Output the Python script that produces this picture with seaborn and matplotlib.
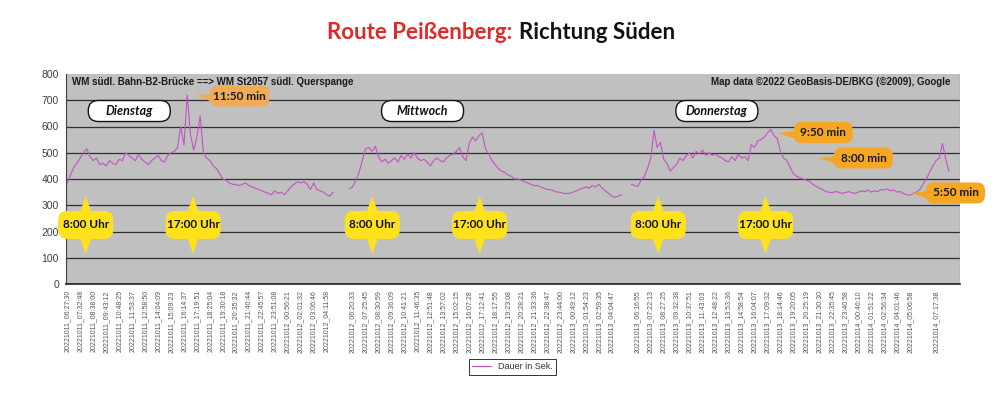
import numpy as np
import pandas as pd
import matplotlib
matplotlib.use("Agg")
import matplotlib.pyplot as plt
import seaborn as sns
from matplotlib.patches import FancyBboxPatch, Polygon
from matplotlib.transforms import IdentityTransform


# Dauer in Sek., about one reading every 16 minutes (4 per axis label)
dienstag = [385, 415, 445, 460, 480, 500, 515, 485, 470, 480,
            455, 460, 450, 470, 460, 455, 475, 470, 500, 490,
            480, 470, 495, 475, 465, 455, 470, 480, 490, 470,
            465, 490, 500, 505, 520, 600, 530, 720, 570, 510,
            560, 640, 500, 480, 470, 450, 440, 420, 400, 395,
            385, 380, 378, 375, 380, 385, 375, 370, 365, 360,
            355, 350, 345, 340, 355, 345, 350, 340, 355, 370,
            380, 390, 385, 390, 380, 360, 385, 360, 355, 350,
            340, 335, 350]
mittwoch = [362, 370, 395, 425, 470, 515, 520, 505, 525, 485,
            465, 475, 460, 470, 480, 465, 490, 475, 495, 480,
            500, 480, 470, 475, 465, 450, 470, 480, 470, 465,
            480, 490, 495, 505, 520, 485, 470, 535, 560, 545,
            565, 575, 515, 495, 470, 455, 440, 430, 425, 415,
            410, 400, 400, 395, 390, 385, 380, 375, 375, 370,
            365, 360, 360, 355, 350, 350, 345, 345, 345, 350,
            355, 360, 365, 370, 365, 375, 370, 380, 365, 355,
            345, 335, 330, 335, 340]
donnerstag = [380, 375, 372, 395, 410, 440, 480, 585, 520, 540,
              475, 460, 430, 445, 455, 480, 470, 490, 500, 480,
              505, 495, 510, 490, 500, 490, 495, 485, 480, 470,
              465, 485, 470, 495, 480, 485, 470, 530, 520, 545,
              550, 560, 575, 590, 565, 555, 505, 480, 470, 445,
              420, 410, 405, 400, 395, 390, 380, 372, 365, 360,
              352, 350, 348, 352, 350, 345, 348, 352, 348, 345,
              350, 355, 352, 358, 350, 355, 352, 360, 358, 362,
              355, 358, 350, 352, 345, 340, 338, 345, 350, 360,
              380, 400, 425, 450, 470, 480, 535, 475, 430]

labels_tue = ["20221011_06:27:30", "20221011_07:32:48", "20221011_08:38:00",
              "20221011_09:43:12", "20221011_10:48:25", "20221011_11:53:37",
              "20221011_12:58:50", "20221011_14:04:09", "20221011_15:09:23",
              "20221011_16:14:37", "20221011_17:19:51", "20221011_18:25:04",
              "20221011_19:30:18", "20221011_20:35:32", "20221011_21:40:44",
              "20221011_22:45:57", "20221011_23:51:08", "20221012_00:56:21",
              "20221012_02:01:32", "20221012_03:06:46", "20221012_04:11:58"]
labels_wed = ["20221012_06:20:33", "20221012_07:25:45", "20221012_08:30:59",
              "20221012_09:36:09", "20221012_10:41:21", "20221012_11:46:35",
              "20221012_12:51:48", "20221012_13:57:02", "20221012_15:02:15",
              "20221012_16:07:28", "20221012_17:12:41", "20221012_18:17:55",
              "20221012_19:23:08", "20221012_20:28:21", "20221012_21:33:36",
              "20221012_22:38:47", "20221012_23:44:00", "20221013_00:49:12",
              "20221013_01:54:23", "20221013_02:59:35", "20221013_04:04:47"]
labels_thu = ["20221013_06:16:55", "20221013_07:22:13", "20221013_08:27:25",
              "20221013_09:32:38", "20221013_10:37:51", "20221013_11:43:03",
              "20221013_12:48:22", "20221013_13:53:36", "20221013_14:58:54",
              "20221013_16:04:07", "20221013_17:09:32", "20221013_18:14:46",
              "20221013_19:20:05", "20221013_20:25:19", "20221013_21:30:30",
              "20221013_22:35:45", "20221013_23:40:58", "20221014_00:46:10",
              "20221014_01:51:22", "20221014_02:56:34", "20221014_04:01:46",
              "20221014_05:06:58"]
label_fri = "20221014_07:17:38"

days = ["Dienstag", "Mittwoch", "Donnerstag"]
day_values = [dienstag, mittwoch, donnerstag]
per_label = 4
day_start = [0, 87, 174]          # first reading of each day on the reading grid

rush_hours = ["8:00 Uhr", "17:00 Uhr"]
rush_slots = [1.42, 9.70, 23.52, 31.80, 45.58, 53.86]
peaks = [("11:50 min", 13.3, 716, 9.9, 720, "#f0ab55"),
         ("9:50 min", 58.3, 577, 54.8, 575, "#f5a623"),
         ("8:00 min", 61.4, 480, 58.0, 480, "#f5a623"),
         ("5:50 min", 68.5, 347, 65.1, 347, "#f5a623")]
day_box_slots = [4.78, 27.4, 50.1]

frames = []
for name, vals, start in zip(days, day_values, day_start):
    frames.append(pd.DataFrame({"pos": (start + np.arange(len(vals))) / per_label,
                                "dauer": vals, "tag": name}))
df = pd.concat(frames, ignore_index=True)

sns.set_style("white")
plt.rcParams["font.family"] = ["Liberation Sans", "DejaVu Sans"]

fig = plt.figure(figsize=(10, 4), dpi=100, facecolor="white")
ax = fig.add_axes([0.066, 0.29, 0.894, 0.525])
ax.set_facecolor("#c0c0c0")

for i, name in enumerate(days):
    sns.lineplot(data=df[df["tag"] == name], x="pos", y="dauer", ax=ax,
                 color="#c452c4", linewidth=0.8,
                 label="Dauer in Sek." if i == 0 else None, legend=False)

ax.set_xlim(-0.1, 68.85)
ax.set_ylim(0, 800)
ax.set_yticks(range(0, 801, 100))
ax.yaxis.grid(True, color="#303030", linewidth=0.9)
ax.get_ygridlines()[-1].set_visible(False)
ax.set_axisbelow(True)

slots = list(range(0, 21)) + list(range(22, 43)) + list(range(44, 66)) + [67]
ax.set_xticks(slots)
ax.set_xticklabels(labels_tue + labels_wed + labels_thu + [label_fri],
                   rotation=90, fontsize=5, color="#555555")
ax.set_xticks(np.arange(0, 68.85, 0.25), minor=True)
ax.tick_params(axis="x", which="both", direction="out", length=3, width=0.6,
               color="#202020", pad=1.5)
ax.tick_params(axis="y", direction="out", length=3, width=0.6, color="#404040",
               labelsize=7.5, labelcolor="#404040", pad=2)
ax.set_xlabel("")
ax.set_ylabel("")
for side in ["top", "right"]:
    ax.spines[side].set_visible(False)
ax.spines["left"].set_color("#404040")
ax.spines["bottom"].set_color("#202020")
ax.spines["bottom"].set_linewidth(1.2)
ax.axvline(68.85, color="#a0a0a0", linewidth=1)

ax.text(0.007, 0.985, "WM südl. Bahn-B2-Brücke ==> WM St2057 südl. Querspange",
        transform=ax.transAxes, ha="left", va="top", fontsize=7, fontweight="bold",
        color="#1a1a1a")
ax.text(0.989, 0.985, "Map data ©2022 GeoBasis-DE/BKG (©2009), Google",
        transform=ax.transAxes, ha="right", va="top", fontsize=7, fontweight="bold",
        color="#1a1a1a")

ident = IdentityTransform()
call_font = ["Lato", "DejaVu Sans"]


def pill(cx, cy, w, h, r, fc, ec=None, lw=0):
    box = FancyBboxPatch((cx - w / 2 + r, cy - h / 2 + r), w - 2 * r, h - 2 * r,
                         boxstyle=f"round,pad={r},rounding_size={r}",
                         transform=ident, facecolor=fc,
                         edgecolor=ec if ec else fc, linewidth=lw,
                         clip_on=False, zorder=5)
    ax.add_patch(box)


for k, xs in enumerate(rush_slots):
    px, py = ax.transData.transform((xs, 225))
    yel = "#ffe21c"
    ax.add_patch(Polygon([(px - 6, py + 12), (px + 6, py + 12), (px, py + 29)],
                         closed=True, transform=ident, facecolor=yel,
                         edgecolor="none", clip_on=False, zorder=5))
    ax.add_patch(Polygon([(px - 6, py - 12), (px + 6, py - 12), (px, py - 29)],
                         closed=True, transform=ident, facecolor=yel,
                         edgecolor="none", clip_on=False, zorder=5))
    pill(px, py, 55, 28, 9, yel)
    ax.text(px, py, rush_hours[k % 2], transform=ident, ha="center", va="center",
            fontsize=8.5, fontweight="bold", family=call_font, color="#111111",
            zorder=6)

for text, bx, by, tx, ty, col in peaks:
    cx, cy = ax.transData.transform((bx, by))
    tipx, tipy = ax.transData.transform((tx, ty))
    ax.add_patch(Polygon([(tipx, tipy), (cx - 25, cy + 2), (cx - 25, cy - 7)],
                         closed=True, transform=ident, facecolor=col,
                         edgecolor="none", clip_on=False, zorder=5))
    pill(cx, cy, 59, 21, 8, col)
    ax.text(cx, cy, text, transform=ident, ha="center", va="center",
            fontsize=8.5, fontweight="bold", family=call_font, color="#1a1a1a",
            zorder=6)

for name, xs in zip(days, day_box_slots):
    cx, cy = ax.transData.transform((xs, 659))
    pill(cx, cy, 82, 21, 10, "white", "#111111", 1)
    ax.text(cx, cy, name, transform=ident, ha="center", va="center",
            fontsize=9, fontweight="bold", fontstyle="italic", family=call_font,
            color="#111111", zorder=6)

fig.legend(loc="center", bbox_to_anchor=(0.5125, 0.083), fontsize=6.5,
           frameon=True, fancybox=False, edgecolor="#333333", framealpha=1,
           handlelength=2, borderpad=0.4, labelcolor="#333333")
fig.legends[0].get_frame().set_linewidth(0.7)

fig.text(0.512, 0.918, "Route Peißenberg:", ha="right", va="center", fontsize=16,
         fontweight="bold", color="#e02a2a", family=call_font)
fig.text(0.519, 0.918, "Richtung Süden", ha="left", va="center", fontsize=16,
         fontweight="bold", color="#111111", family=call_font)

fig.savefig("out.png", dpi=100, facecolor="white")
